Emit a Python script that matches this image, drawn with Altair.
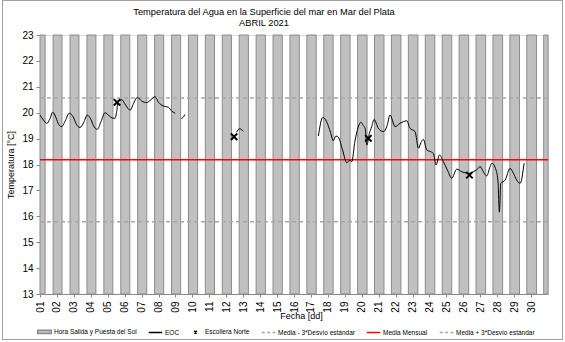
import altair as alt
import pandas as pd

# ---------------- data ----------------
dias = list(range(1, 31))
salida_sol = ["07:12", "07:13", "07:14", "07:15", "07:16", "07:17", "07:18", "07:19", "07:20", "07:21",
              "07:22", "07:23", "07:24", "07:25", "07:26", "07:27", "07:28", "07:29", "07:30", "07:31",
              "07:32", "07:33", "07:34", "07:35", "07:36", "07:37", "07:37", "07:38", "07:39", "07:40"]
puesta_sol = ["18:36", "18:34", "18:33", "18:31", "18:30", "18:28", "18:27", "18:25", "18:24", "18:22",
              "18:21", "18:19", "18:18", "18:16", "18:15", "18:13", "18:12", "18:10", "18:09", "18:07",
              "18:06", "18:04", "18:03", "18:02", "18:00", "17:59", "17:58", "17:56", "17:55", "17:54"]

eoc_dia = [1.00, 1.20, 1.40, 1.58, 1.75, 1.95, 2.10, 2.28, 2.50, 2.73, 2.95, 3.15, 3.36, 3.58, 3.79,
           4.00, 4.20, 4.38, 4.60, 4.84, 5.05, 5.25, 5.43, 5.53, 5.60, 5.83, 6.05, 6.32, 6.55, 6.75,
           7.00, 7.30, 7.55, 7.79, 8.00, 8.28, 8.58, 8.80, 8.98,
           9.35, 9.45, 9.56,
           12.60, 12.80, 13.00,
           17.44, 17.70, 17.93, 18.15, 18.32, 18.47, 18.62, 18.85, 19.12, 19.31, 19.41, 19.60, 19.80,
           19.94, 20.10, 20.20, 20.30, 20.45, 20.59, 20.73, 20.98, 21.28, 21.50, 21.67, 21.97, 22.26,
           22.45, 22.66, 22.85, 23.15, 23.35, 23.50, 23.64, 23.84, 24.05, 24.23, 24.39, 24.59, 24.82,
           25.05, 25.32, 25.61, 25.91, 26.10, 26.30, 26.59, 26.80, 26.99, 27.20, 27.38, 27.58, 27.68,
           27.93, 28.05, 28.13, 28.21, 28.47, 28.76, 28.96, 29.15, 29.35, 29.59]
eoc_temp = [19.91, 19.72, 19.59, 19.75, 20.02, 19.80, 19.55, 19.46, 19.70, 19.98, 19.85, 19.55, 19.43, 19.62, 19.91,
            19.75, 19.45, 19.36, 19.65, 20.00, 19.90, 19.80, 19.78, 20.05, 20.38, 20.50, 20.30, 20.10, 20.40, 20.59,
            20.45, 20.39, 20.50, 20.62, 20.40, 20.26, 20.21, 20.05, 19.98,
            19.78, 19.82, 19.93,
            19.25, 19.38, 19.28,
            19.10, 19.82, 19.65, 19.25, 18.92, 19.10, 19.05, 18.60, 18.07, 18.17, 18.11, 18.90, 19.46,
            19.63, 19.50, 19.40, 18.75, 19.20, 19.46, 19.74, 19.40, 19.27, 19.50, 19.91, 19.46, 19.59,
            19.65, 19.69, 19.40, 19.27, 18.63, 18.85, 18.97, 18.56, 18.50, 18.43, 17.98, 18.37, 18.11,
            17.80, 17.47, 17.82, 17.72, 17.68, 17.66, 17.72, 17.80, 17.92, 17.70, 17.56, 17.92, 18.05,
            17.79, 17.30, 16.16, 17.27, 17.40, 17.85, 17.66, 17.40, 17.27, 18.05]
eoc_tramo = ([1] * 39) + ([2] * 3) + ([3] * 3) + ([4] * 62)

esc_dia = [5.55, 12.46, 20.39, 26.36]
esc_temp = [20.40, 19.07, 19.01, 17.59]

series = ["Hora Salida y Puesta del Sol", "EOC", "Escollera Norte",
          "Media - 3*Desvío estándar", "Media Mensual", "Media + 3*Desvío estándar"]
ref_valores = [15.79, 18.18, 20.57]

# ---------------- tables ----------------
def frac(hhmm):
    h, m = hhmm.split(":")
    return (int(h) + int(m) / 60.0) / 24.0

ini = [1.0] + [d + frac(p) for d, p in zip(dias, puesta_sol)]
fin = [1.0 + frac(salida_sol[0])] + [d + 1 + frac(s) for d, s in zip(dias[:-1], salida_sol[1:])] + [31.0]
noches = pd.DataFrame({"ini": ini, "fin": fin})

eoc = pd.DataFrame({"dia": eoc_dia, "temp": eoc_temp, "tramo": eoc_tramo})
esc = pd.DataFrame({"dia": esc_dia, "temp": esc_temp})
refs = pd.DataFrame({"valor": ref_valores, "serie": [series[3], series[4], series[5]]})
leyenda = pd.DataFrame({"serie": series})

FONT = "Liberation Sans"
W, H = 508, 259

xscale = alt.Scale(domain=[1, 31], nice=False, zero=False)
yscale = alt.Scale(domain=[13, 23], nice=False, zero=False)
xaxis = alt.Axis(values=dias, labelExpr="datum.value < 10 ? '0' + datum.value : '' + datum.value",
                 labelAngle=270, title="Fecha [dd]", grid=False, tickSize=3, labelPadding=4,
                 titleX=261, titleY=17, titleBaseline="top", titleFontWeight="normal",
                 titleFontSize=9, titleFont=FONT)
yaxis = alt.Axis(values=list(range(13, 24)), title="Temperatura [°C]", grid=False, tickSize=4,
                 labelPadding=3, titlePadding=6, titleFontWeight="normal", titleFontSize=9,
                 titleFont=FONT)

noche_layer = alt.Chart(noches).mark_rect(fill="#C0C0C0", stroke="#8C8C8C", strokeWidth=1).encode(
    x=alt.X("ini:Q", scale=xscale, axis=xaxis),
    x2="fin:Q",
    y=alt.YDatum(13, scale=yscale, axis=yaxis),
    y2=alt.Y2Datum(23),
)

ref_menos = alt.Chart(refs).transform_filter(alt.datum.serie == series[3]).mark_rule(
    color="#A6A6A6", strokeWidth=1.5, strokeDash=[4, 3]).encode(
    y=alt.Y("valor:Q", scale=yscale, axis=yaxis))
ref_mas = alt.Chart(refs).transform_filter(alt.datum.serie == series[5]).mark_rule(
    color="#A6A6A6", strokeWidth=1.5, strokeDash=[4, 3]).encode(
    y=alt.Y("valor:Q", scale=yscale, axis=yaxis))
ref_media = alt.Chart(refs).transform_filter(alt.datum.serie == series[4]).mark_rule(
    color="#FF0000", strokeWidth=1.5).encode(
    y=alt.Y("valor:Q", scale=yscale, axis=yaxis))

eoc_layer = alt.Chart(eoc).mark_line(color="black", strokeWidth=1, interpolate="monotone").encode(
    x=alt.X("dia:Q", scale=xscale, axis=xaxis),
    y=alt.Y("temp:Q", scale=yscale, axis=yaxis),
    detail="tramo:N",
)

XPATH = "M-1,-1L1,1M-1,1L1,-1"
esc_layer = alt.Chart(esc).mark_point(shape=XPATH, filled=False, color="black", strokeWidth=2,
                                      size=42, opacity=1).encode(
    x=alt.X("dia:Q", scale=xscale, axis=xaxis),
    y=alt.Y("temp:Q", scale=yscale, axis=yaxis),
)

paths = ["M-1,-0.25L1,-0.25L1,0.25L-1,0.25Z",
         "M-1,0L1,0",
         "M-0.2,-0.2L0.2,0.2M-0.2,0.2L0.2,-0.2",
         "M-1,0L-0.55,0M-0.2,0L0.25,0M0.6,0L1,0",
         "M-1,0L1,0",
         "M-1,0L-0.55,0M-0.2,0L0.25,0M0.6,0L1,0"]
strokes = ["#8C8C8C", "black", "black", "#A6A6A6", "#FF0000", "#A6A6A6"]
fills = ["#C0C0C0", "transparent", "transparent", "transparent", "transparent", "transparent"]

leg = alt.Legend(orient="none", legendX=-3, legendY=289, direction="horizontal", columns=6, title=None,
                 labelFont=FONT, labelFontSize=6.5, labelColor="black", symbolSize=182,
                 symbolStrokeWidth=1.5, columnPadding=8, labelOffset=2, symbolOpacity=1)

leyenda_layer = alt.Chart(leyenda).mark_point(clip=True, filled=False, size=10).encode(
    x=alt.XDatum(1, scale=xscale, axis=xaxis),
    y=alt.YDatum(100, scale=yscale, axis=yaxis),
    shape=alt.Shape("serie:N", scale=alt.Scale(domain=series, range=paths), legend=leg),
    stroke=alt.Stroke("serie:N", scale=alt.Scale(domain=series, range=strokes), legend=leg),
    fill=alt.Fill("serie:N", scale=alt.Scale(domain=series, range=fills), legend=leg),
)

marco = alt.Chart(leyenda).mark_rect(fill="transparent", stroke="#A0A0A0", strokeWidth=1).encode(
    x=alt.value(-37.5), x2=alt.value(522.5), y=alt.value(-34.5), y2=alt.value(304.5))

chart = alt.layer(
    noche_layer, ref_menos, ref_mas, ref_media, eoc_layer, esc_layer, leyenda_layer, marco
).properties(
    width=W, height=H,
    title=alt.TitleParams(["Temperatura del Agua en la Superficie del mar en Mar del Plata", "ABRIL 2021"],
                          font=FONT, fontSize=9.3, fontWeight="normal", anchor="middle", dx=-30,
                          offset=-28, lineHeight=11, color="black"),
    autosize=alt.AutoSizeParams(type="none"),
    padding={"left": 40, "top": 35, "right": 17, "bottom": 48},
).configure_view(
    stroke="#606060", strokeWidth=1
).configure_axis(
    labelFont=FONT, titleFont=FONT, labelFontSize=8.5, titleFontSize=9, labelColor="black",
    titleColor="black", titleFontWeight="normal", domainColor="#808080", tickColor="#808080"
).configure(background="white")

chart.save("out.html", embed_options={"renderer": "svg", "actions": False})
